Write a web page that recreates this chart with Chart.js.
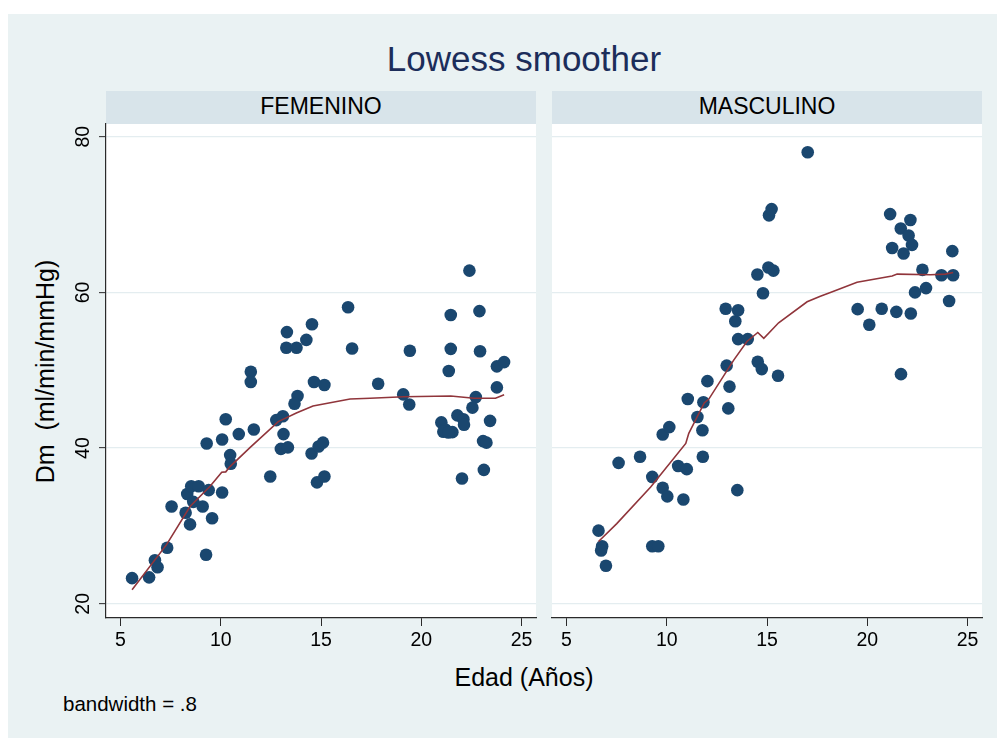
<!DOCTYPE html>
<html>
<head>
<meta charset="utf-8">
<script src="https://cdn.jsdelivr.net/npm/chart.js@4.4.1/dist/chart.umd.min.js"></script>
<style>
  html, body { margin:0; padding:0; }
  body { width:1003px; height:738px; background:#ffffff; position:relative; overflow:hidden;
         font-family:"Liberation Sans", Arial, Helvetica, sans-serif; }
  .abs { position:absolute; }
  .txt { position:absolute; white-space:pre; line-height:1; color:#000; }
  canvas { position:absolute; left:0; top:0; }
</style>
</head>
<body>
<div class="abs" style="left:8px;top:14px;width:989px;height:724px;background:#eaf2f3;"></div>
<div class="abs" style="left:106px;top:91px;width:430px;height:33px;background:#d8e4ea;"></div>
<div class="abs" style="left:552px;top:91px;width:430px;height:33px;background:#d8e4ea;"></div>
<div class="abs" style="left:106px;top:124px;width:430px;height:494px;background:#ffffff;"></div>
<div class="abs" style="left:552px;top:124px;width:430px;height:494px;background:#ffffff;"></div>

<div id="title" class="txt" style="left:0;width:1048px;text-align:center;top:41.4px;font-size:35px;color:#1c2d5a;"></div>
<div id="h1" class="txt" style="left:106px;width:430px;text-align:center;top:95px;font-size:23px;"></div>
<div id="h2" class="txt" style="left:552px;width:430px;text-align:center;top:95px;font-size:23px;"></div>
<div id="xtitle" class="txt" style="left:0;width:1048px;text-align:center;top:665px;font-size:25px;"></div>
<div id="ytitle" class="txt" style="left:-155px;width:400px;text-align:center;top:358.5px;font-size:25px;transform:rotate(-90deg);transform-origin:200px 12.5px;"></div>
<div id="note" class="txt" style="left:63px;top:693.6px;font-size:20.5px;"></div>

<canvas id="c1" width="1003" height="738"></canvas>
<canvas id="c2" width="1003" height="738"></canvas>

<script>
// ---------------- data ----------------
const titleText = "Lowess smoother";
const panelLabels = ["FEMENINO", "MASCULINO"];
const xTitleText = "Edad (Años)";
const yTitleText = "Dm  (ml/min/mmHg)";
const noteText = "bandwidth = .8";
const xTicks = [5, 10, 15, 20, 25];
const yTicks = [20, 40, 60, 80];

const femAge = [5.58, 6.43, 6.72, 6.85, 7.33, 7.55, 8.25, 8.47, 8.33, 8.53, 8.9, 8.63, 9.1, 9.27, 9.4, 9.57,
  10.07, 10.47, 10.5, 9.3, 10.07, 10.25, 10.9, 11.65, 11.5, 11.5, 12.47, 12.77, 13.1, 13.13, 13.0, 13.35,
  13.3, 13.27, 13.78, 14.27, 14.55, 16.35, 16.55, 13.83, 13.68, 14.65, 15.17, 14.53, 14.88, 15.1, 14.8, 15.17,
  22.4, 21.47, 22.9, 19.43, 21.47, 22.93, 21.37, 23.77, 24.13, 23.77, 17.85, 19.1, 19.4, 22.72, 22.55, 21.8,
  22.1, 21.0, 22.13, 21.2, 21.1, 21.55, 21.35, 23.43, 23.08, 23.25, 23.12, 22.03];
const femDm = [23.3, 23.4, 25.6, 24.7, 27.2, 32.5, 31.7, 30.2, 34.1, 35.1, 35.1, 33.1, 32.5, 26.3, 34.6, 31.0,
  34.3, 39.1, 38.0, 40.6, 41.1, 43.7, 41.8, 42.4, 49.8, 48.5, 36.35, 43.6, 44.1, 41.8, 39.9, 40.1,
  54.9, 52.9, 52.9, 53.9, 55.9, 58.1, 52.8, 46.7, 45.7, 48.5, 48.1, 39.3, 40.2, 40.7, 35.6, 36.35,
  62.8, 57.1, 57.6, 52.5, 52.75, 52.45, 49.9, 50.5, 51.05, 47.8, 48.26, 46.9, 45.6, 46.55, 45.2, 44.2,
  43.7, 43.3, 43.0, 42.4, 42.1, 42.05, 42.0, 43.5, 40.9, 40.7, 37.2, 36.1];
const femLowAge = [5.58, 7.3, 8.47, 9.47, 10.05, 10.25, 10.45, 11.47, 12.87, 13.77, 14.6, 16.45, 17.45, 19.13, 21.47, 22.63, 23.7, 24.13];
const femLowDm  = [21.8, 27.6, 32.5, 35.1, 36.9, 36.95, 37.6, 40.1, 43.4, 44.5, 45.4, 46.3, 46.4, 46.6, 46.7, 46.4, 46.4, 46.85];

const mascAge = [6.6, 6.78, 6.73, 6.97, 7.6, 8.67, 9.28, 9.58, 9.28, 9.8, 10.03, 10.83, 10.57, 11.0, 11.8, 11.78,
  9.8, 10.13, 11.53, 11.83, 11.05, 13.07, 12.03, 13.13, 12.99, 14.54, 14.74, 15.55, 13.56, 14.04, 13.42, 12.94,
  13.56, 14.8, 14.52, 15.07, 15.32, 15.1, 15.23, 17.03, 13.52, 21.14, 22.15, 21.67, 22.06, 22.23, 21.24, 21.81,
  24.24, 22.75, 23.7, 24.28, 22.93, 22.38, 24.08, 19.52, 20.72, 21.45, 22.17, 20.1, 21.68];
const mascDm = [29.4, 27.4, 26.85, 24.9, 38.1, 38.9, 27.4, 27.4, 36.3, 34.9, 33.8, 33.4, 37.7, 37.3, 38.9, 42.3,
  41.75, 42.7, 44.0, 45.9, 46.3, 45.1, 48.6, 47.9, 50.6, 51.1, 50.15, 49.3, 54.0, 54.0, 56.3, 57.9,
  57.7, 59.9, 62.3, 63.2, 62.8, 69.9, 70.7, 78.0, 34.6, 70.06, 69.3, 68.2, 67.3, 66.1, 65.7, 65.0,
  65.3, 62.9, 62.2, 62.2, 60.55, 60.0, 58.9, 57.85, 57.9, 57.5, 57.3, 55.85, 49.5];
const mascLowAge = [6.6, 7.51, 9.2, 10.95, 11.1, 11.87, 12.1, 13.34, 14.0, 14.54, 14.84, 15.58, 17.0, 17.66, 18.16, 19.49, 21.24, 21.49, 23.15, 23.9, 24.28];
const mascLowDm  = [28.0, 30.3, 35.0, 40.6, 41.9, 45.8, 46.3, 51.3, 53.7, 54.85, 54.1, 56.1, 58.8, 59.5, 60.0, 61.3, 62.1, 62.35, 62.26, 62.35, 62.56];

// ---------------- texts ----------------
document.getElementById('title').textContent = titleText;
document.getElementById('h1').textContent = panelLabels[0];
document.getElementById('h2').textContent = panelLabels[1];
document.getElementById('xtitle').textContent = xTitleText;
document.getElementById('ytitle').textContent = yTitleText;
document.getElementById('note').textContent = noteText;

// ---------------- charts ----------------
const FONT = '"Liberation Sans", Arial, Helvetica, sans-serif';
const MARKER = '#1a476f';
const LINE = '#90353b';
const AXIS = '#2a2a2a';
const GRID = '#e4edf0';
const X_RANGE = [4.28, 25.72];
const Y_RANGE = [18.18, 81.63];

const toPts = (xs, ys) => xs.map((x, i) => ({x: x, y: ys[i]}));

const yLabelPlugin = {
  id: 'yRotLabels',
  afterDraw(chart, args, opts) {
    if (!opts || !opts.show) return;
    const ys = chart.scales.y, ctx = chart.ctx;
    ctx.save();
    ctx.fillStyle = '#000';
    ctx.font = '19.5px ' + FONT;
    ctx.textAlign = 'center';
    ctx.textBaseline = 'alphabetic';
    yTicks.forEach(v => {
      const py = ys.getPixelForValue(v);
      ctx.save();
      ctx.translate(88.5, py);
      ctx.rotate(-Math.PI / 2);
      ctx.fillText(String(v), 0, 0);
      ctx.restore();
    });
    ctx.restore();
  }
};

function makePanel(canvasId, ages, dms, lowAges, lowDms, left, right, showYAxis) {
  return new Chart(document.getElementById(canvasId), {
    type: 'scatter',
    data: {
      datasets: [
        { data: toPts(lowAges, lowDms), showLine: true, borderColor: LINE, borderWidth: 1.6,
          pointRadius: 0, fill: false, tension: 0 },
        { data: toPts(ages, dms), backgroundColor: MARKER, borderWidth: 0,
          pointRadius: 6.3, pointHoverRadius: 6.3, pointStyle: 'circle' }
      ]
    },
    options: {
      responsive: false,
      devicePixelRatio: 1,
      animation: false,
      events: [],
      layout: { autoPadding: false, padding: { left: left, right: 1003 - right, top: 124, bottom: 0 } },
      plugins: { legend: { display: false }, tooltip: { enabled: false }, yRotLabels: { show: showYAxis } },
      scales: {
        x: {
          type: 'linear', min: X_RANGE[0], max: X_RANGE[1], offset: false,
          afterBuildTicks: s => { s.ticks = xTicks.map(v => ({value: v})); },
          afterFit: s => { s.height = 120; },
          grid: { drawOnChartArea: false, drawTicks: true, tickLength: 8, tickColor: AXIS, tickWidth: 1 },
          border: { display: true, color: AXIS, width: 1.2 },
          ticks: { color: '#000', font: { family: FONT, size: 19.5 }, padding: 3, maxRotation: 0, autoSkip: false }
        },
        y: {
          type: 'linear', min: Y_RANGE[0], max: Y_RANGE[1],
          afterBuildTicks: s => { s.ticks = yTicks.map(v => ({value: v})); },
          afterFit: s => { s.width = showYAxis ? 106 : 0; },
          grid: { drawOnChartArea: true, color: GRID, lineWidth: 1.3,
                  drawTicks: showYAxis, tickLength: 7, tickColor: AXIS, tickWidth: 1 },
          border: { display: showYAxis, color: AXIS, width: 1.2 },
          ticks: { display: false }
        }
      }
    },
    plugins: [yLabelPlugin]
  });
}

makePanel('c1', femAge, femDm, femLowAge, femLowDm, 0, 536, true);
makePanel('c2', mascAge, mascDm, mascLowAge, mascLowDm, 552, 982, false);
</script>
</body>
</html>
